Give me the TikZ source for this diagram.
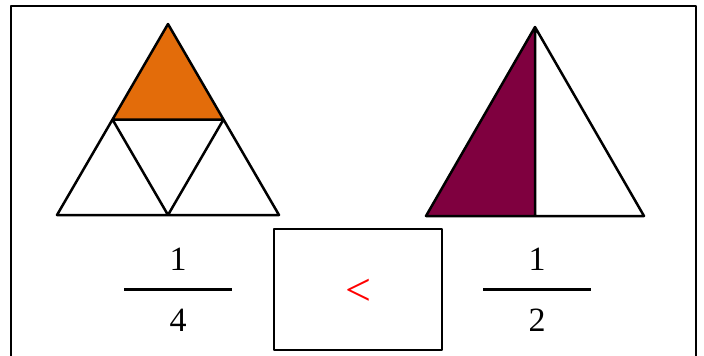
\documentclass[tikz,border=0pt]{standalone}
\usepackage{fontspec}
\setmainfont{Liberation Serif}
\definecolor{partorange}{HTML}{E36C0A}
\definecolor{partmaroon}{HTML}{7F003F}
\tikzset{digit/.style={anchor=base,inner sep=0pt}}

\begin{document}
\begin{tikzpicture}[x=1pt,y=-1pt,font=\fontsize{34}{40}\selectfont,line width=2.5pt,line join=round]
\useasboundingbox (0,0) rectangle (704,356);
\draw (11,356) -- (11,6) -- (696,6) -- (696,356);
\coordinate (A) at (168,24);
\coordinate (B) at (57,215);
\coordinate (C) at (279,215);
\coordinate (AB) at (112.5,119.5);
\coordinate (AC) at (223.5,119.5);
\coordinate (BC) at (168,215);
\fill[partorange] (A) -- (AB) -- (AC) -- cycle;
\draw (A) -- (B) -- (C) -- cycle (AB) -- (AC) -- (BC) -- cycle;
\coordinate (D) at (535,27);
\coordinate (E) at (426,216);
\coordinate (F) at (644,216);
\coordinate (EF) at (535,216);
\fill[partmaroon] (D) -- (E) -- (EF) -- cycle;
\draw (D) -- (E) -- (F) -- cycle (D) -- (EF);
\foreach \x/\num/\den/\nm in {178/1/4/left,537/1/2/right}{
 \node[digit] (\nm num) at (\x,270) {\num};
 \node[digit] (\nm den) at (\x,331) {\den};
 \draw (\x-54,289.5) -- (\x+54,289.5);
}
\node[draw,minimum width=168pt,minimum height=121pt] (cmp) at (358,289.5) {};
\node[text=red,font=\fontsize{46}{50}\selectfont,inner sep=0pt] (sign) at (358,292.5) {<};
\end{tikzpicture}
\end{document}
